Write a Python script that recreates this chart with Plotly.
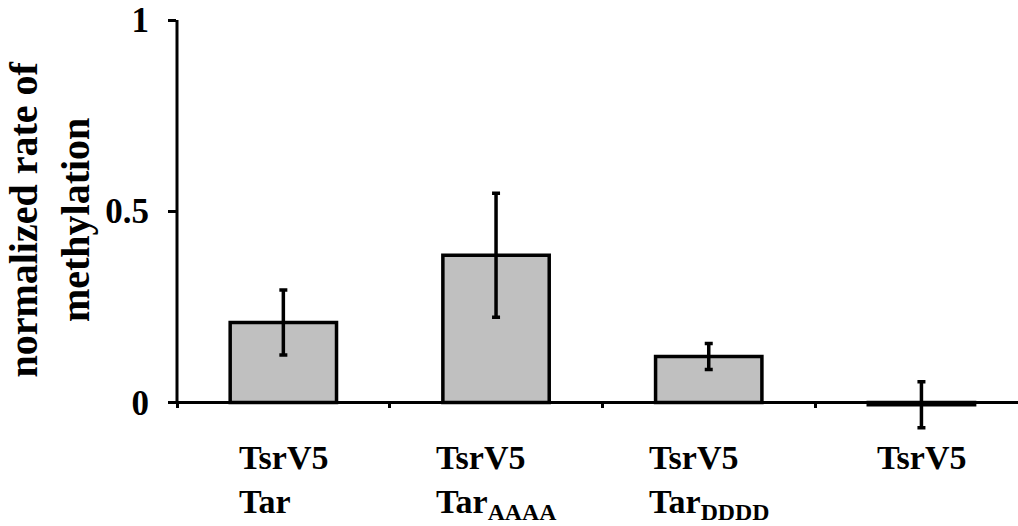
import plotly.graph_objects as go

categories = ["TsrV5<br>Tar", "TsrV5<br>Tar<sub>AAAA</sub>", "TsrV5<br>Tar<sub>DDDD</sub>", "TsrV5"]
values = [0.209, 0.385, 0.12, -0.006]
errors = [0.085, 0.162, 0.034, 0.060]
y_ticks = [0, 0.5, 1]
y_tick_text = ["0", "0.5", "1"]
y_title = "normalized rate of<br>methylation"

FONT = "Liberation Serif, Times New Roman, serif"
y_min, y_max = -0.08, 1.0

fig = go.Figure()
fig.add_trace(go.Bar(
    x=list(range(len(categories))),
    y=values,
    width=0.5,
    marker=dict(color="#c0c0c0", line=dict(color="black", width=3.5)),
    error_y=dict(type="data", array=errors, visible=True, color="black", thickness=3.5, width=4),
))

annotations = []
for i, lab in enumerate(categories):
    annotations.append(dict(
        text=lab, x=i, xref="x", y=0, yref="y", yanchor="top", xanchor="center",
        yshift=-35, align="left", showarrow=False,
        font=dict(family=FONT, size=34, color="black", weight="bold"),
    ))
annotations.append(dict(
    text=y_title, textangle=-90, xref="paper", x=0, xanchor="center", xshift=-127,
    yref="y", y=0.478, yanchor="middle", showarrow=False,
    font=dict(family=FONT, size=40, color="black", weight="bold"),
))

fig.update_layout(
    width=1018, height=526,
    margin=dict(l=177, r=0, t=20, b=93),
    paper_bgcolor="white", plot_bgcolor="white",
    showlegend=False,
    annotations=annotations,
    shapes=[dict(type="line", xref="paper", x0=0, x1=0, yref="y", y0=-0.004, y1=1,
                 line=dict(color="black", width=3))],
    xaxis=dict(
        range=[-0.5, 3.454], anchor="free", position=(0 - y_min) / (y_max - y_min),
        showline=True, linecolor="black", linewidth=3,
        ticks="outside", tickvals=[-0.5, 0.5, 1.5, 2.5], ticklen=4, tickwidth=3, tickcolor="black",
        showticklabels=False, showgrid=False, zeroline=False,
    ),
    yaxis=dict(
        range=[y_min, y_max], tickvals=y_ticks, ticktext=y_tick_text,
        ticks="outside", ticklen=8, tickwidth=3, tickcolor="black",
        ticklabelstandoff=12,
        tickfont=dict(family=FONT, size=35, color="black", weight="bold"),
        showline=False, showgrid=False, zeroline=False,
    ),
)

fig.write_html("out.html")
